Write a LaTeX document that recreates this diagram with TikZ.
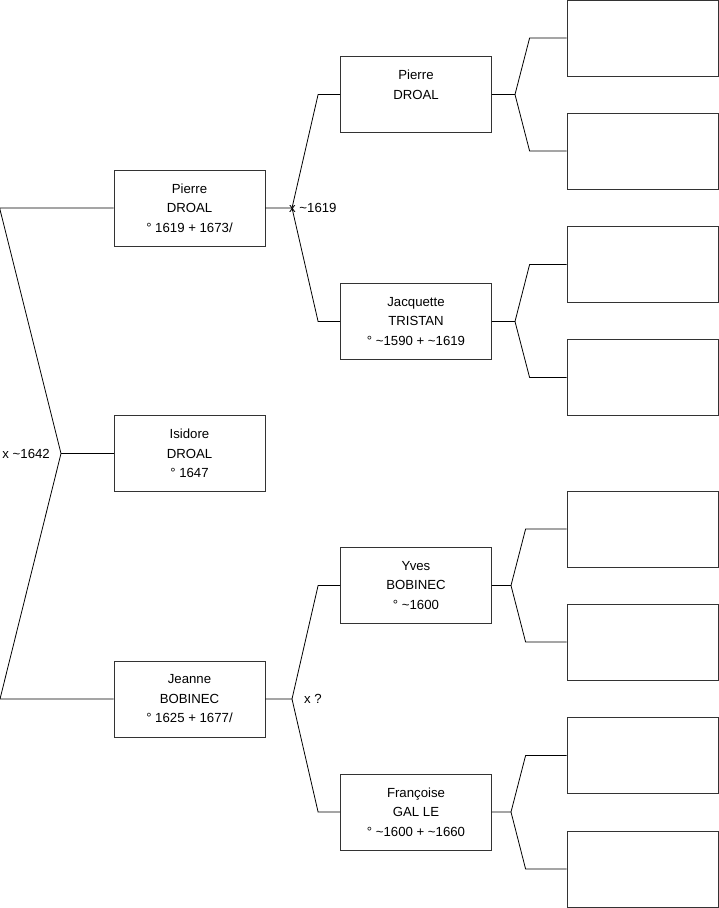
\documentclass[tikz,border=0pt]{standalone}
\usepackage{fontspec}
\setmainfont{Liberation Sans}
\begin{document}
\begin{tikzpicture}[x=1pt,y=-1pt,
  person/.style={draw=black!80,line width=0.8pt,minimum width=151pt,minimum height=76pt,
    align=center,inner sep=0pt,font=\fontsize{13.2}{19.5}\selectfont},
  link/.style={draw=black,line width=0.8pt},
  note/.style={inner sep=0pt,font=\fontsize{13.2}{15}\selectfont}]
\useasboundingbox (0,0) rectangle (719,908);

\node[person] (pierre1) at (189.5,208) {Pierre\\DROAL\\° 1619 + 1673/};
\node[person] (isidore) at (189.5,453.5) {Isidore\\DROAL\\° 1647};
\node[person] (jeanne) at (189.5,699) {Jeanne\\BOBINEC\\° 1625 + 1677/};

\node[person] (pierre2) at (416,94.5) {Pierre\\DROAL\\~};
\node[person] (jacq) at (416,321.5) {Jacquette\\TRISTAN\\° \textasciitilde1590 + \textasciitilde1619};
\node[person] (yves) at (416,585.5) {Yves\\BOBINEC\\° \textasciitilde1600};
\node[person] (fran) at (416,812) {Françoise\\GAL LE\\° \textasciitilde1600 + \textasciitilde1660};

\node[person] (e1) at (642.5,38) {};
\node[person] (e2) at (642.5,151) {};
\node[person] (e3) at (642.5,264.5) {};
\node[person] (e4) at (642.5,377.5) {};
\node[person] (e5) at (642.5,529) {};
\node[person] (e6) at (642.5,642) {};
\node[person] (e7) at (642.5,755.5) {};
\node[person] (e8) at (642.5,869) {};

% couple of the first column
\coordinate (m0) at (61,453.5);
\draw[link] (pierre1.west) -- ++(-114,0) -- (m0) -- (0,699) -- (jeanne.west);
\draw[link] (m0) -- (isidore.west);
\node[note,anchor=east] at ([xshift=-11]m0) {x \textasciitilde1642};

% parents
\coordinate (m1) at (292,208);
\draw[link] (pierre1.east) -- (m1) -- ([xshift=-22]pierre2.west) -- (pierre2.west);
\draw[link] (m1) -- ([xshift=-22]jacq.west) -- (jacq.west);
\node[note,anchor=west] at ([xshift=-3]m1) {x \textasciitilde1619};

\coordinate (m2) at (292,699);
\draw[link] (jeanne.east) -- (m2) -- ([xshift=-22]yves.west) -- (yves.west);
\draw[link] (m2) -- ([xshift=-22]fran.west) -- (fran.west);
\node[note,anchor=west] at ([xshift=12]m2) {x ?};

% grandparents
\coordinate (m3) at (515,94.5);
\draw[link] (pierre2.east) -- (m3) -- ([xshift=-37]e1.west) -- (e1.west);
\draw[link] (m3) -- ([xshift=-37]e2.west) -- (e2.west);

\coordinate (m4) at (515,321.5);
\draw[link] (jacq.east) -- (m4) -- ([xshift=-37]e3.west) -- (e3.west);
\draw[link] (m4) -- ([xshift=-37]e4.west) -- (e4.west);

\coordinate (m5) at (511,585.5);
\draw[link] (yves.east) -- (m5) -- ([xshift=-41]e5.west) -- (e5.west);
\draw[link] (m5) -- ([xshift=-41]e6.west) -- (e6.west);

\coordinate (m6) at (511,812);
\draw[link] (fran.east) -- (m6) -- ([xshift=-41]e7.west) -- (e7.west);
\draw[link] (m6) -- ([xshift=-41]e8.west) -- (e8.west);
\end{tikzpicture}
\end{document}
